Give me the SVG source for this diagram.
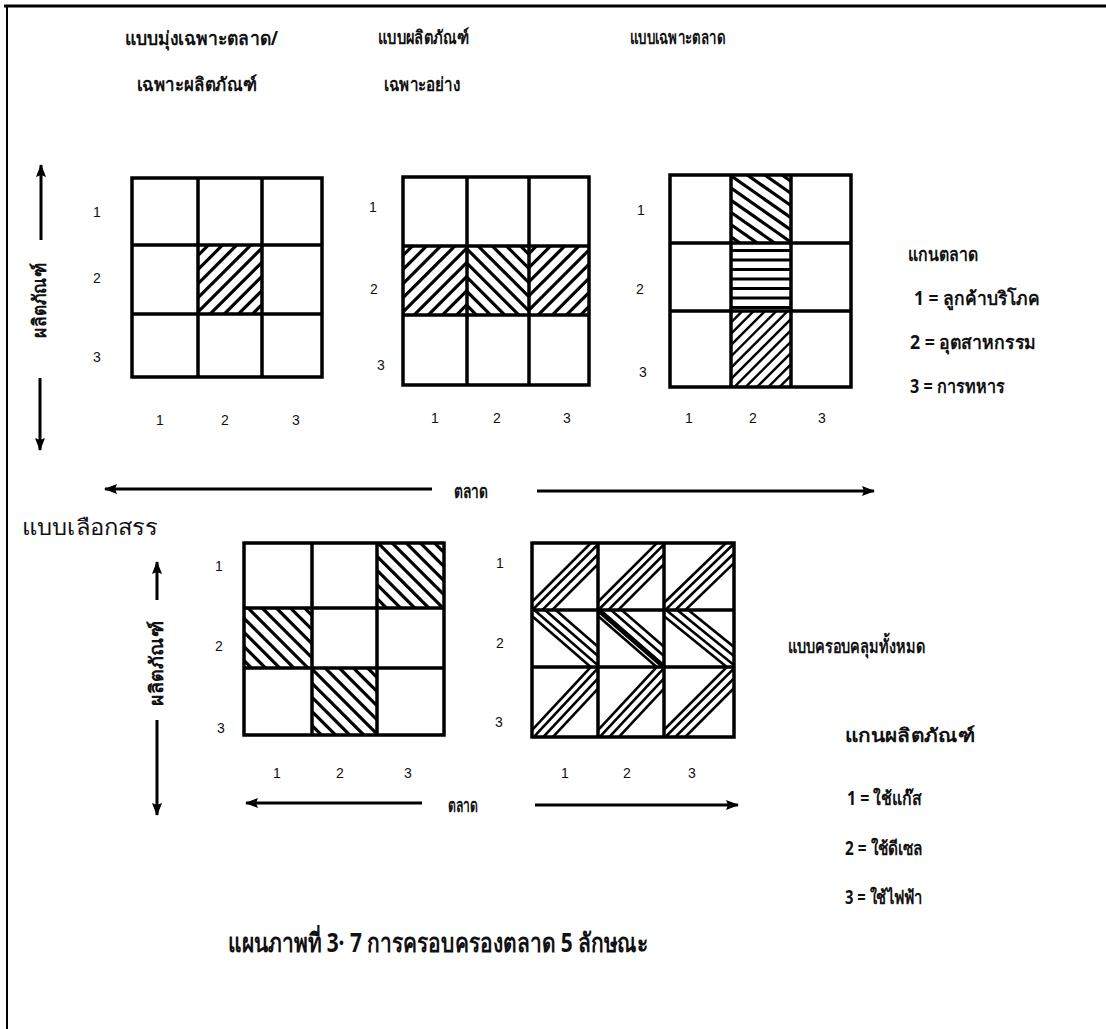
<svg xmlns="http://www.w3.org/2000/svg" xmlns:xlink="http://www.w3.org/1999/xlink" width="1106" height="1029" viewBox="0 0 1106 1029">
<style>
.t{font-family:"Noto Sans","DejaVu Sans",sans-serif;font-size:19px;font-weight:bold;fill:#111}
.tn{font-family:"Noto Sans","DejaVu Sans",sans-serif;font-size:22px;font-weight:normal;fill:#111}
.n{font-family:"Liberation Sans",Arial,sans-serif;font-size:14px;fill:#111}
.cap{font-family:"Noto Sans","DejaVu Sans",sans-serif;font-size:26px;font-weight:bold;fill:#111}
.grid{fill:#fff;stroke:#000;stroke-width:3.5}
.gl{stroke:#000;stroke-width:3.5;fill:none}
.ar{stroke:#000;stroke-width:3;fill:none}
.h line{stroke:#000;stroke-width:3.2}
.hs line{stroke:#000;stroke-width:2.4}
.b line{stroke:#000;stroke-width:2.6}
</style>
<defs>
<marker id="ah" markerWidth="14" markerHeight="12" refX="12" refY="6" orient="auto" markerUnits="userSpaceOnUse">
<path d="M0,1 L13,6 L0,11 L2,6 Z" fill="#000"/>
</marker>
<g id="h10" class="h">
<line x1="-80" y1="-60" x2="80" y2="-60"/><line x1="-80" y1="-50" x2="80" y2="-50"/><line x1="-80" y1="-40" x2="80" y2="-40"/><line x1="-80" y1="-30" x2="80" y2="-30"/><line x1="-80" y1="-20" x2="80" y2="-20"/><line x1="-80" y1="-10" x2="80" y2="-10"/><line x1="-80" y1="0" x2="80" y2="0"/><line x1="-80" y1="10" x2="80" y2="10"/><line x1="-80" y1="20" x2="80" y2="20"/><line x1="-80" y1="30" x2="80" y2="30"/><line x1="-80" y1="40" x2="80" y2="40"/><line x1="-80" y1="50" x2="80" y2="50"/><line x1="-80" y1="60" x2="80" y2="60"/>
</g>
<g id="h8" class="hs">
<line x1="-80" y1="-56" x2="80" y2="-56"/><line x1="-80" y1="-48" x2="80" y2="-48"/><line x1="-80" y1="-40" x2="80" y2="-40"/><line x1="-80" y1="-32" x2="80" y2="-32"/><line x1="-80" y1="-24" x2="80" y2="-24"/><line x1="-80" y1="-16" x2="80" y2="-16"/><line x1="-80" y1="-8" x2="80" y2="-8"/><line x1="-80" y1="0" x2="80" y2="0"/><line x1="-80" y1="8" x2="80" y2="8"/><line x1="-80" y1="16" x2="80" y2="16"/><line x1="-80" y1="24" x2="80" y2="24"/><line x1="-80" y1="32" x2="80" y2="32"/><line x1="-80" y1="40" x2="80" y2="40"/><line x1="-80" y1="48" x2="80" y2="48"/><line x1="-80" y1="56" x2="80" y2="56"/>
</g>
<g id="band" class="b">
<line x1="-80" y1="-5" x2="80" y2="-5"/><line x1="-80" y1="1" x2="80" y2="1"/><line x1="-80" y1="8" x2="80" y2="8"/><line x1="-80" y1="15" x2="80" y2="15"/>
</g>
<clipPath id="g1c22"><rect x="198" y="245" width="64" height="69"/></clipPath>
<clipPath id="g2c21"><rect x="403" y="246" width="64" height="69"/></clipPath>
<clipPath id="g2c22"><rect x="467" y="246" width="62" height="69"/></clipPath>
<clipPath id="g2c23"><rect x="529" y="246" width="60" height="69"/></clipPath>
<clipPath id="g3c12"><rect x="731" y="175" width="60" height="68"/></clipPath>
<clipPath id="g3c22"><rect x="731" y="243" width="60" height="68"/></clipPath>
<clipPath id="g3c32"><rect x="731" y="311" width="60" height="76"/></clipPath>
<clipPath id="g4c13"><rect x="377" y="543" width="67" height="65"/></clipPath>
<clipPath id="g4c21"><rect x="244" y="608" width="68" height="60"/></clipPath>
<clipPath id="g4c32"><rect x="312" y="668" width="65" height="67"/></clipPath>
<clipPath id="g5c11"><rect x="532" y="543" width="66" height="67"/></clipPath>
<clipPath id="g5c12"><rect x="598" y="543" width="66" height="67"/></clipPath>
<clipPath id="g5c13"><rect x="664" y="543" width="70" height="67"/></clipPath>
<clipPath id="g5c21"><rect x="532" y="610" width="66" height="57"/></clipPath>
<clipPath id="g5c22"><rect x="598" y="610" width="66" height="57"/></clipPath>
<clipPath id="g5c23"><rect x="664" y="610" width="70" height="57"/></clipPath>
<clipPath id="g5c31"><rect x="532" y="667" width="66" height="70"/></clipPath>
<clipPath id="g5c32"><rect x="598" y="667" width="66" height="70"/></clipPath>
<clipPath id="g5c33"><rect x="664" y="667" width="70" height="70"/></clipPath>
</defs>

<rect width="1106" height="1029" fill="#fff"/>
<g id="frame">
<line x1="4" y1="6" x2="1106" y2="6" stroke="#000" stroke-width="3"/>
<line x1="7" y1="5" x2="7" y2="1029" stroke="#000" stroke-width="2"/>
</g>

<g id="titles">
<text class="t" x="125" y="45" textLength="153" lengthAdjust="spacingAndGlyphs">แบบมุ่งเฉพาะตลาด/</text>
<text class="t" x="137" y="91" textLength="120" lengthAdjust="spacingAndGlyphs">เฉพาะผลิตภัณฑ์</text>
<text class="t" x="378" y="44" textLength="91" lengthAdjust="spacingAndGlyphs">แบบผลิตภัณฑ์</text>
<text class="t" x="384" y="91" textLength="76" lengthAdjust="spacingAndGlyphs">เฉพาะอย่าง</text>
<text class="t" x="630" y="44" textLength="95" lengthAdjust="spacingAndGlyphs">แบบเฉพาะตลาด</text>
<text class="tn" x="22" y="535" textLength="136" lengthAdjust="spacingAndGlyphs">แบบเลือกสรร</text>
<text class="t" x="788" y="653" textLength="137" lengthAdjust="spacingAndGlyphs">แบบครอบคลุมทั้งหมด</text>
</g>

<g id="grid1">
<rect class="grid" x="132" y="178" width="190" height="199"/>
<g clip-path="url(#g1c22)"><use href="#h10" transform="translate(230,280) rotate(-45)"/></g>
<path class="gl" d="M198,178V377M262,178V377M132,245H322M132,314H322"/>
<text class="n" x="97" y="217" text-anchor="middle">1</text>
<text class="n" x="97" y="283" text-anchor="middle">2</text>
<text class="n" x="97" y="362" text-anchor="middle">3</text>
<text class="n" x="160" y="425" text-anchor="middle">1</text>
<text class="n" x="225" y="425" text-anchor="middle">2</text>
<text class="n" x="296" y="425" text-anchor="middle">3</text>
</g>

<g id="grid2">
<rect class="grid" x="403" y="177" width="186" height="208"/>
<g clip-path="url(#g2c21)"><use href="#h10" transform="translate(435,280) rotate(-45)"/></g>
<g clip-path="url(#g2c22)"><use href="#h10" transform="translate(498,280) rotate(45)"/></g>
<g clip-path="url(#g2c23)"><use href="#h10" transform="translate(559,280) rotate(-45)"/></g>
<path class="gl" d="M467,177V385M529,177V385M403,246H589M403,315H589"/>
<text class="n" x="373" y="212" text-anchor="middle">1</text>
<text class="n" x="374" y="294" text-anchor="middle">2</text>
<text class="n" x="381" y="370" text-anchor="middle">3</text>
<text class="n" x="435" y="423" text-anchor="middle">1</text>
<text class="n" x="497" y="423" text-anchor="middle">2</text>
<text class="n" x="567" y="423" text-anchor="middle">3</text>
</g>

<g id="grid3">
<rect class="grid" x="670" y="175" width="181" height="212"/>
<g clip-path="url(#g3c12)"><use href="#h10" transform="translate(761,209) rotate(35)"/></g>
<g clip-path="url(#g3c22)"><use href="#h10" transform="translate(761,279) scale(1,0.95)"/></g>
<g clip-path="url(#g3c32)"><use href="#h8" transform="translate(761,349) rotate(-45)"/></g>
<path class="gl" d="M731,175V387M791,175V387M670,243H851M670,311H851"/>
<text class="n" x="641" y="215" text-anchor="middle">1</text>
<text class="n" x="640" y="294" text-anchor="middle">2</text>
<text class="n" x="643" y="377" text-anchor="middle">3</text>
<text class="n" x="689" y="423" text-anchor="middle">1</text>
<text class="n" x="753" y="423" text-anchor="middle">2</text>
<text class="n" x="822" y="423" text-anchor="middle">3</text>
</g>

<g id="legend-market">
<text class="t" x="908" y="261" textLength="70" lengthAdjust="spacingAndGlyphs">แกนตลาด</text>
<text class="t" x="914" y="305" textLength="126" lengthAdjust="spacingAndGlyphs">1 = ลูกค้าบริโภค</text>
<text class="t" x="910" y="349" textLength="126" lengthAdjust="spacingAndGlyphs">2 = อุตสาหกรรม</text>
<text class="t" x="910" y="393" textLength="95" lengthAdjust="spacingAndGlyphs">3 = การทหาร</text>
</g>

<g id="grid4">
<rect class="grid" x="244" y="543" width="200" height="192"/>
<g clip-path="url(#g4c13)"><use href="#h10" transform="translate(410,575) rotate(45)"/></g>
<g clip-path="url(#g4c21)"><use href="#h10" transform="translate(278,638) rotate(45)"/></g>
<g clip-path="url(#g4c32)"><use href="#h10" transform="translate(344,701) rotate(45)"/></g>
<path class="gl" d="M312,543V735M377,543V735M244,608H444M244,668H444"/>
<text class="n" x="219" y="571" text-anchor="middle">1</text>
<text class="n" x="219" y="651" text-anchor="middle">2</text>
<text class="n" x="221" y="733" text-anchor="middle">3</text>
<text class="n" x="277" y="778" text-anchor="middle">1</text>
<text class="n" x="340" y="778" text-anchor="middle">2</text>
<text class="n" x="408" y="778" text-anchor="middle">3</text>
</g>

<g id="grid5">
<rect class="grid" x="532" y="543" width="202" height="194"/>
<g clip-path="url(#g5c11)"><use href="#band" transform="translate(565,576) rotate(-45)"/></g>
<g clip-path="url(#g5c12)"><use href="#band" transform="translate(631,576) rotate(-45)"/></g>
<g clip-path="url(#g5c13)"><use href="#band" transform="translate(699,576) rotate(-44)"/></g>
<g clip-path="url(#g5c21)"><use href="#band" transform="translate(565,638) rotate(41) scale(1,-1)"/></g>
<g clip-path="url(#g5c22)"><use href="#band" transform="translate(631,638) rotate(41) scale(1,-1)"/></g>
<line x1="598" y1="610" x2="664" y2="667" stroke="#000" stroke-width="4.5"/>
<g clip-path="url(#g5c23)"><use href="#band" transform="translate(699,638) rotate(39) scale(1,-1)"/></g>
<g clip-path="url(#g5c31)"><use href="#band" transform="translate(565,702) rotate(-47)"/></g>
<g clip-path="url(#g5c32)"><use href="#band" transform="translate(631,702) rotate(-47)"/></g>
<g clip-path="url(#g5c33)"><use href="#band" transform="translate(699,702) rotate(-45)"/></g>
<path class="gl" d="M598,543V737M664,543V737M532,610H734M532,667H734"/>
<text class="n" x="500" y="568" text-anchor="middle">1</text>
<text class="n" x="500" y="648" text-anchor="middle">2</text>
<text class="n" x="499" y="727" text-anchor="middle">3</text>
<text class="n" x="565" y="778" text-anchor="middle">1</text>
<text class="n" x="627" y="778" text-anchor="middle">2</text>
<text class="n" x="692" y="778" text-anchor="middle">3</text>
</g>

<g id="legend-product">
<text class="t" x="845" y="742" textLength="130" lengthAdjust="spacingAndGlyphs">แกนผลิตภัณฑ์</text>
<text class="t" x="847" y="805" textLength="75" lengthAdjust="spacingAndGlyphs">1 = ใช้แก๊ส</text>
<text class="t" x="845" y="855" textLength="78" lengthAdjust="spacingAndGlyphs">2 = ใช้ดีเซล</text>
<text class="t" x="845" y="904" textLength="78" lengthAdjust="spacingAndGlyphs">3 = ใช้ไฟฟ้า</text>
</g>

<g id="connectors">
<line class="ar" x1="41" y1="240" x2="41" y2="165" marker-end="url(#ah)"/>
<line class="ar" x1="40" y1="378" x2="40" y2="450" marker-end="url(#ah)"/>
<line class="ar" x1="432" y1="489" x2="105" y2="489" marker-end="url(#ah)"/>
<line class="ar" x1="537" y1="491" x2="874" y2="491" marker-end="url(#ah)"/>
<line class="ar" x1="157" y1="600" x2="157" y2="562" marker-end="url(#ah)"/>
<line class="ar" x1="157" y1="720" x2="157" y2="815" marker-end="url(#ah)"/>
<line class="ar" x1="422" y1="803" x2="246" y2="803" marker-end="url(#ah)"/>
<line class="ar" x1="535" y1="805" x2="738" y2="805" marker-end="url(#ah)"/>
</g>

<g id="axis-labels">
<text class="t" transform="translate(46,300) rotate(-90)" text-anchor="middle" textLength="75" lengthAdjust="spacingAndGlyphs">ผลิตภัณฑ์</text>
<text class="t" transform="translate(163,663) rotate(-90)" text-anchor="middle" textLength="85" lengthAdjust="spacingAndGlyphs">ผลิตภัณฑ์</text>
<text class="t" x="454" y="498" textLength="34" lengthAdjust="spacingAndGlyphs">ตลาด</text>
<text class="t" x="448" y="812" textLength="30" lengthAdjust="spacingAndGlyphs">ตลาด</text>
</g>

<g id="caption">
<text class="cap" x="228" y="952" textLength="420" lengthAdjust="spacingAndGlyphs">แผนภาพที่ 3· 7 การครอบครองตลาด 5 ลักษณะ</text>
</g>
</svg>
